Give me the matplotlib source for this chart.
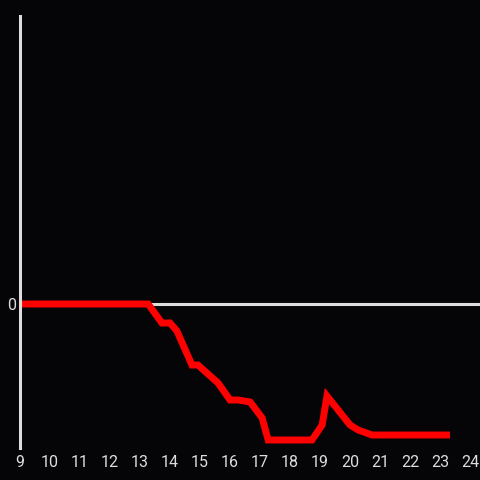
import matplotlib
matplotlib.use("Agg")
import matplotlib.pyplot as plt

# hour of day vs. value (arbitrary units, 0 = baseline)
hours = [9.0, 13.27, 13.73, 14.0, 14.23, 14.73, 14.93, 15.6, 16.0, 16.27,
         16.67, 17.07, 17.27, 18.73, 19.07, 19.23, 20.0, 20.27, 20.73, 23.33]
values = [0.0, 0.0, -1.9, -1.9, -2.7, -6.1, -6.1, -7.9, -9.6, -9.6,
          -9.8, -11.4, -13.6, -13.6, -12.1, -9.2, -12.1, -12.6, -13.1, -13.1]
xticks = list(range(9, 25))

bg = "#050407"
fg = "#dddddd"
plt.rcParams["font.family"] = ["Roboto", "DejaVu Sans"]

fig = plt.figure(figsize=(4.8, 4.8), dpi=100, facecolor=bg)
ax = fig.add_axes([20/480, 32/480, 460/480, 432/480])
ax.set_facecolor(bg)

ax.axhline(0, color=fg, lw=2.2, zorder=1)
ax.plot(hours, values, color="#ff0000", lw=5, solid_joinstyle="miter",
        solid_capstyle="butt", zorder=2)

ax.set_xlim(9, 24.33)
ax.set_ylim(-14.4, 28.8)
ax.set_xticks(xticks)
ax.set_yticks([0])
ax.tick_params(colors=fg, length=0, labelsize=11.5)
ax.tick_params(axis="x", pad=5)
ax.tick_params(axis="y", pad=3)

for s in ["top", "right", "bottom"]:
    ax.spines[s].set_visible(False)
ax.spines["left"].set_color(fg)
ax.spines["left"].set_linewidth(2.2)

fig.savefig("out.png", dpi=100, facecolor=bg)
